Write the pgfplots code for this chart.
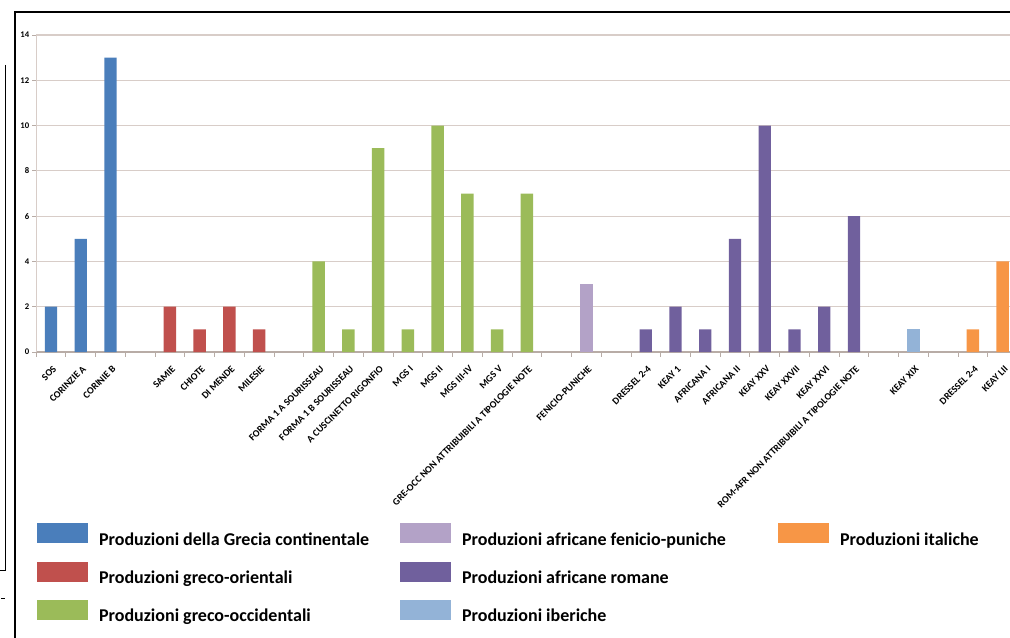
\documentclass[border=0pt]{standalone}
\usepackage{fontspec}
\setmainfont{Carlito}
\usepackage{pgfplots}
\pgfplotsset{compat=1.18}
\definecolor{cBlue}{HTML}{4A7EBB}
\definecolor{cRed}{HTML}{C0504D}
\definecolor{cGreen}{HTML}{9BBB59}
\definecolor{cLPurple}{HTML}{B3A2C7}
\definecolor{cPurple}{HTML}{70609D}
\definecolor{cLBlue}{HTML}{93B3D7}
\definecolor{cOrange}{HTML}{F79646}
\definecolor{gridc}{HTML}{D8CDC8}
\definecolor{axc}{HTML}{B8ACA6}
\begin{document}
\begin{tikzpicture}
\useasboundingbox (0pt,0pt) rectangle (757.5pt,-478.5pt);
\begin{scope}[x=0.75pt,y=-0.75pt]
\draw[line width=0.9pt] (15,638) -- (15,12) -- (1010,12);
\draw[line width=0.6pt] (5,65) -- (5,570) -- (0,570);
\draw[line width=0.5pt] (1,598) -- (5,598);
\end{scope}
\begin{axis}[
  at={(27.075pt,-264pt)}, anchor=south west,
  scale only axis, width=730.5pt, height=237.75pt,
  xmin=-0.5, xmax=32.25, ymin=0, ymax=14,
  axis x line*=bottom, axis y line*=left,
  x axis line style={axc, line width=0.9pt},
  y axis line style={gridc, line width=0.6pt},
  ytick={0,2,...,14},
  ymajorgrids, grid style={gridc, line width=0.9pt},
  xtick={0,1,2,4,5,6,7,9,10,11,12,13,14,15,16,18,20,21,22,23,24,25,26,27,29,31,32},
  xticklabels={SOS,CORINZIE A,CORINIE B,SAMIE,CHIOTE,DI MENDE,MILESIE,FORMA 1 A SOURISSEAU,FORMA 1 B SOURISSEAU,A CUSCINETTO RIGONFIO,MGS I,MGS II,MGS III-IV,MGS V,GRE-OCC NON ATTRIBUIBILI A TIPOLOGIE NOTE,FENICIO-PUNICHE,DRESSEL 2-4,KEAY 1,AFRICANA I,AFRICANA II,KEAY XXV,KEAY XXVII,KEAY XXVI,ROM-AFR NON ATTRIBUIBILI A TIPOLOGIE NOTE,KEAY XIX,DRESSEL 2-4,KEAY LII},
  minor xtick={-0.5,0.5,...,32.5},
  tick align=outside,
  major x tick style={draw=none},
  minor x tick style={axc, line width=0.6pt},
  major y tick style={axc, line width=0.6pt},
  major tick length=3pt, minor tick length=3.5pt,
  /pgf/number format/assume math mode=true,
  x tick label style={font=\bfseries\fontsize{7.4}{8}\selectfont, rotate=45, anchor=east, inner sep=1pt, yshift=-8pt, xshift=-3pt},
  y tick label style={font=\bfseries\fontsize{6.5}{7}\selectfont, inner sep=2pt},
  legend columns=3,
  legend cell align=left,
  legend style={at={(axis description cs:0.001,-0.540)}, anchor=north west,
    draw=none, fill=none, inner sep=0pt, outer sep=0pt, row sep=10.75pt, column sep=0pt,
    nodes={inner sep=0pt, outer sep=0pt, font=\bfseries\fontsize{13.5}{15}\selectfont}},
  legend image code/.code={\fill[#1] (0pt,-2.5pt) rectangle (38.25pt,12.5pt); \path (46.5pt,0pt);},
]
\addplot[ybar, bar width=9.3pt, fill=cBlue, draw=none, forget plot] coordinates {(0,2) (1,5) (2,13)};
\addplot[ybar, bar width=9.3pt, fill=cRed, draw=none, forget plot] coordinates {(4,2) (5,1) (6,2) (7,1)};
\addplot[ybar, bar width=9.3pt, fill=cGreen, draw=none, forget plot] coordinates {(9,4) (10,1) (11,9) (12,1) (13,10) (14,7) (15,1) (16,7)};
\addplot[ybar, bar width=9.3pt, fill=cLPurple, draw=none, forget plot] coordinates {(18,3)};
\addplot[ybar, bar width=9.3pt, fill=cPurple, draw=none, forget plot] coordinates {(20,1) (21,2) (22,1) (23,5) (24,10) (25,1) (26,2) (27,6)};
\addplot[ybar, bar width=9.3pt, fill=cLBlue, draw=none, forget plot] coordinates {(29,1)};
\addplot[ybar, bar width=9.3pt, fill=cOrange, draw=none, forget plot] coordinates {(31,1) (32,4)};
\addlegendimage{fill=cBlue, draw=none}
\addlegendentry{\makebox[225.75pt][l]{Produzioni della Grecia continentale}}
\addlegendimage{fill=cLPurple, draw=none}
\addlegendentry{\makebox[237pt][l]{Produzioni africane fenicio-puniche}}
\addlegendimage{fill=cOrange, draw=none}
\addlegendentry{Produzioni italiche}
\addlegendimage{fill=cRed, draw=none}
\addlegendentry{Produzioni greco-orientali}
\addlegendimage{fill=cPurple, draw=none}
\addlegendentry{Produzioni africane romane}
\addlegendimage{empty legend}
\addlegendentry{}
\addlegendimage{fill=cGreen, draw=none}
\addlegendentry{Produzioni greco-occidentali}
\addlegendimage{fill=cLBlue, draw=none}
\addlegendentry{Produzioni iberiche}
\end{axis}
\end{tikzpicture}
\end{document}
